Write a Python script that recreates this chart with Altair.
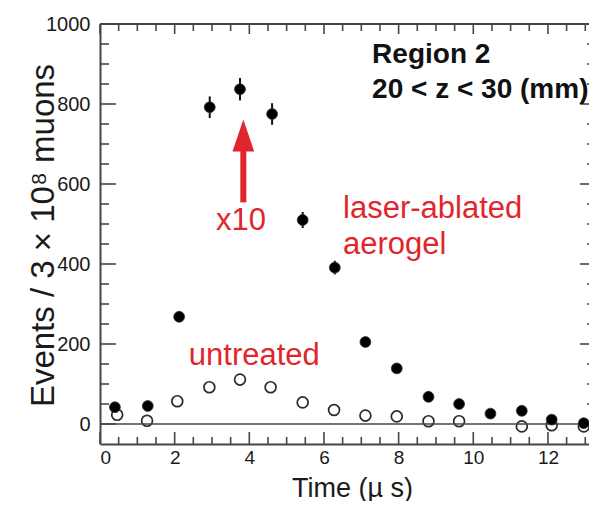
import altair as alt
import pandas as pd

# ---- data ----
t_laser = [0.40, 1.28, 2.12, 2.94, 3.75, 4.61, 5.43, 6.29, 7.11, 7.95, 8.80, 9.62, 10.46, 11.30, 12.10, 12.96]
ev_laser = [42, 45, 268, 792, 837, 775, 510, 391, 205, 139, 68, 50, 26, 33, 11, 2]
err_laser = [6, 6, 12, 27, 28, 27, 20, 17, 12, 10, 7, 6, 5, 5, 4, 3]

t_untreated = [0.46, 1.26, 2.07, 2.93, 3.75, 4.57, 5.43, 6.27, 7.11, 7.95, 8.80, 9.62, 11.30, 12.10, 12.96]
ev_untreated = [23, 8, 57, 92, 111, 92, 54, 35, 21, 19, 7, 7, -6, -3, -6]

x_major = [0, 2, 4, 6, 8, 10, 12]
x_minor = [0.5, 1, 1.5, 2.5, 3, 3.5, 4.5, 5, 5.5, 6.5, 7, 7.5, 8.5, 9, 9.5, 10.5, 11, 11.5, 12.5, 13]
y_major = [0, 200, 400, 600, 800, 1000]
y_minor = [50, 100, 150, 250, 300, 350, 450, 500, 550, 650, 700, 750, 850, 900, 950]

red_text = ["x10", "laser-ablated", "aerogel", "untreated"]
red_x = [3.11, 6.51, 6.51, 2.38]
red_y = [485, 515, 426, 148]

black_text = ["Region 2", "20 < z < 30 (mm)"]
black_x = [7.29, 7.29]
black_y = [902, 816]

arrow_x = [3.84]
arrow_from = [554]
arrow_to = [690]
arrow_tip = [721]

# ---- styling ----
W, H = 489, 420
AX = "#4a4540"
RED = "#e0262c"
FONT = "Liberation Sans"
XDOM = [0, 13.1]
YDOM = [-50, 1000]

laser = pd.DataFrame({"t": t_laser, "ev": ev_laser,
                      "lo": [v - e for v, e in zip(ev_laser, err_laser)],
                      "hi": [v + e for v, e in zip(ev_laser, err_laser)]})
untr = pd.DataFrame({"t": t_untreated, "ev": ev_untreated})

xs = alt.Scale(domain=XDOM, nice=False, zero=False)
ys = alt.Scale(domain=YDOM, nice=False, zero=False)

x_axis = alt.Axis(values=x_major, format="d", ticks=False, grid=False,
                  labelFontSize=19, labelFont=FONT, labelColor="#1a1a1a", labelPadding=4,
                  domainColor=AX, domainWidth=2,
                  title="Time (µ s)", titleFont=FONT, titleFontSize=27, titleFontWeight="normal",
                  titleColor="#1a1a1a", titleX=252, titleY=52, titleBaseline="alphabetic",
                  titleAlign="center")
y_axis = alt.Axis(values=y_major, format="d", ticks=False, grid=False,
                  labelFontSize=20, labelFont=FONT, labelColor="#1a1a1a", labelPadding=10,
                  domainColor=AX, domainWidth=2,
                  title="Events / 3 × 10⁸ muons", titleFont=FONT, titleFontSize=33,
                  titleFontWeight="normal", titleColor="#1a1a1a", titleAngle=270,
                  titleX=-47, titleY=211, titleBaseline="alphabetic", titleAlign="center")

base_points = alt.Chart(untr).mark_point(shape="circle", filled=False, size=118,
                                         color="#2a2a2a", strokeWidth=1.7, opacity=1).encode(
    x=alt.X("t:Q", scale=xs, axis=x_axis),
    y=alt.Y("ev:Q", scale=ys, axis=y_axis),
)

zero_line = alt.Chart(pd.DataFrame({"z": [0]})).mark_rule(color=AX, strokeWidth=1.6).encode(
    y=alt.Y("z:Q", scale=ys))
top_line = alt.Chart(pd.DataFrame({"z": [1000]})).mark_rule(color=AX, strokeWidth=2).encode(
    y=alt.Y("z:Q", scale=ys))

err = alt.Chart(laser).mark_rule(color="#111", strokeWidth=2).encode(
    x=alt.X("t:Q", scale=xs), y=alt.Y("lo:Q", scale=ys), y2="hi:Q")

filled = alt.Chart(laser).mark_circle(size=118, color="#000", opacity=1,
                                      stroke="#333", strokeWidth=0.8).encode(
    x=alt.X("t:Q", scale=xs), y=alt.Y("ev:Q", scale=ys))

# inward ticks
def xticks(vals, y0, y1):
    return alt.Chart(pd.DataFrame({"v": vals})).mark_rule(color=AX, strokeWidth=1.6).encode(
        x=alt.X("v:Q", scale=xs), y=alt.value(y0), y2=alt.value(y1))

def yticks(vals, x0, x1):
    return alt.Chart(pd.DataFrame({"v": vals})).mark_rule(color=AX, strokeWidth=1.6).encode(
        y=alt.Y("v:Q", scale=ys), x=alt.value(x0), x2=alt.value(x1))

ticks = [
    xticks(x_major, H, H - 12), xticks(x_minor, H, H - 7),
    xticks(x_major, 0, 10), xticks(x_minor, 0, 7),
    yticks(y_major, 0, 16), yticks(y_minor, 0, 9),
    yticks(y_major, W, W - 9), yticks(y_minor, W, W - 2),
]

arrow_df = pd.DataFrame({"x": arrow_x, "a": arrow_from, "b": arrow_to, "tip": arrow_tip})
shaft = alt.Chart(arrow_df).mark_rule(color=RED, strokeWidth=6).encode(
    x=alt.X("x:Q", scale=xs), y=alt.Y("a:Q", scale=ys), y2="b:Q")
head = alt.Chart(arrow_df).mark_point(shape="M0,-1L0.68,1L-0.68,1Z", size=1024, filled=True,
                                      color=RED, opacity=1, strokeWidth=0).encode(
    x=alt.X("x:Q", scale=xs), y=alt.Y("tip:Q", scale=ys))

red_lbl = alt.Chart(pd.DataFrame({"t": red_text, "x": red_x, "y": red_y})).mark_text(
    font=FONT, fontSize=31, color=RED, align="left", baseline="alphabetic").encode(
    x=alt.X("x:Q", scale=xs), y=alt.Y("y:Q", scale=ys), text="t:N")

black_lbl = alt.Chart(pd.DataFrame({"t": black_text, "x": black_x, "y": black_y})).mark_text(
    font=FONT, fontSize=28, fontWeight="bold", color="#111", align="left",
    baseline="alphabetic").encode(
    x=alt.X("x:Q", scale=xs), y=alt.Y("y:Q", scale=ys), text="t:N")

chart = alt.layer(
    base_points, zero_line, top_line, *ticks, err, filled, shaft, head, red_lbl, black_lbl
).properties(
    width=W, height=H,
    autosize=alt.AutoSizeParams(type="none"),
    padding={"left": 92, "top": 16, "right": 0, "bottom": 57},
).configure_view(stroke=None).configure(background="white")

chart.save("out.html", embed_options={"renderer": "svg", "actions": False})
